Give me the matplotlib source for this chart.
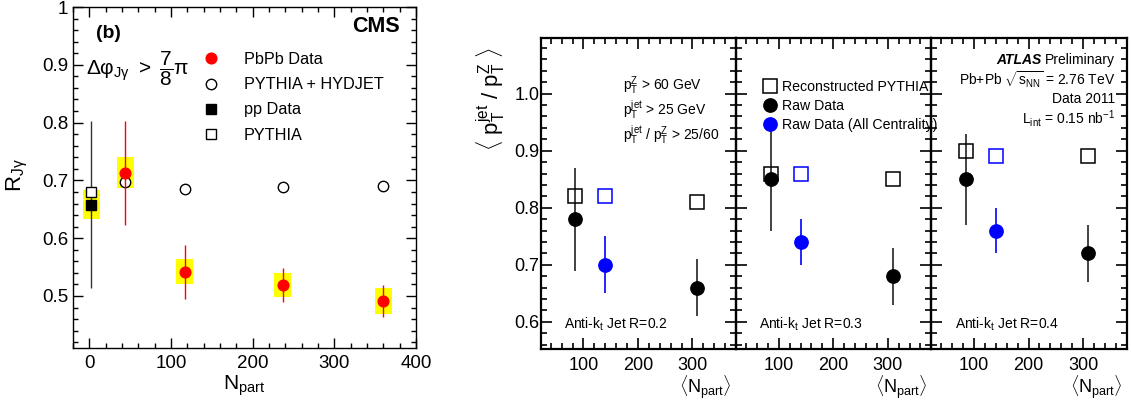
import matplotlib
matplotlib.use("Agg")
import matplotlib.pyplot as plt
from matplotlib.patches import Rectangle
from matplotlib.ticker import MultipleLocator, FixedLocator, FixedFormatter
from matplotlib.lines import Line2D

plt.rcParams["font.family"] = ["Liberation Sans", "DejaVu Sans"]
plt.rcParams["mathtext.fontset"] = "custom"
plt.rcParams["mathtext.rm"] = "Liberation Sans"
plt.rcParams["mathtext.it"] = "Liberation Sans:italic"
plt.rcParams["mathtext.bf"] = "Liberation Sans:bold"

# ---------- CMS panel (b) data ----------
npart_pbpb = [44, 117, 237, 360]
r_pbpb = [0.713, 0.542, 0.519, 0.491]
r_pbpb_stat = [0.090, 0.047, 0.029, 0.028]
r_pbpb_sys = [0.027, 0.022, 0.021, 0.023]
r_hydjet = [0.698, 0.685, 0.688, 0.691]

npart_pp = [2.5]
r_pp = [0.658]
r_pp_stat = [0.145]
r_pp_sys = [0.025]
r_pythia = [0.680]

# ---------- ATLAS data (per jet radius) ----------
radii = ["0.2", "0.3", "0.4"]
npart_cent = [85, 309]
npart_all = [140]
reco_pythia = [[0.82, 0.81], [0.86, 0.85], [0.90, 0.89]]
reco_pythia_all = [[0.82], [0.86], [0.89]]
raw_data = [[0.78, 0.66], [0.85, 0.68], [0.85, 0.72]]
raw_data_err = [[0.09, 0.05], [0.09, 0.05], [0.08, 0.05]]
raw_all = [[0.70], [0.74], [0.76]]
raw_all_err = [[0.05], [0.04], [0.04]]

W, H = 1131, 412
fig = plt.figure(figsize=(W / 100, H / 100), dpi=100)


def px_rect(x0, y0, x1, y1):
    return [x0 / W, 1 - y1 / H, (x1 - x0) / W, (y1 - y0) / H]


def ftext(x, y, s, **kw):
    return fig.text(x / W, 1 - y / H, s, **kw)


# ---------- left: CMS ----------
ax = fig.add_axes(px_rect(73, 7, 416, 348))
ax.set_xlim(-20, 400)
ax.set_ylim(0.41, 1.0)
for sp in ax.spines.values():
    sp.set_linewidth(1.0)
ax.xaxis.set_major_locator(MultipleLocator(100))
ax.xaxis.set_minor_locator(MultipleLocator(20))
ax.yaxis.set_major_locator(FixedLocator([0.5, 0.6, 0.7, 0.8, 0.9, 1.0]))
ax.yaxis.set_major_formatter(FixedFormatter(["0.5", "0.6", "0.7", "0.8", "0.9", "1"]))
ax.yaxis.set_minor_locator(MultipleLocator(0.02))
ax.tick_params(which="both", direction="in", top=True, right=True, width=1.0)
ax.tick_params(which="major", length=7.5, labelsize=13.5)
ax.tick_params(which="minor", length=3.8)
ax.tick_params(axis="y", pad=3.5)
ax.tick_params(axis="x", pad=5)

for x, y, s in zip(npart_pbpb, r_pbpb, r_pbpb_sys):
    ax.add_patch(Rectangle((x - 10.5, y - s), 21, 2 * s, color="#ffff00", lw=0, zorder=1))
for x, y, s in zip(npart_pp, r_pp, r_pp_sys):
    ax.add_patch(Rectangle((x - 10, y - s), 20, 2 * s, color="#ffff00", lw=0, zorder=1))

ax.errorbar(npart_pp, r_pp, yerr=r_pp_stat, fmt="none", ecolor="#333333", elinewidth=1.0, capsize=0, zorder=2)
ax.plot(npart_pp, r_pythia, ls="none", marker="s", ms=7.5, mfc="white", mec="black", mew=1.0, zorder=3)
ax.plot(npart_pp, r_pp, ls="none", marker="s", ms=7.7, color="black", zorder=4)
ax.plot(npart_pbpb, r_hydjet, ls="none", marker="o", ms=7.5, mfc="white", mec="black", mew=1.0, zorder=3)
ax.errorbar(npart_pbpb, r_pbpb, yerr=r_pbpb_stat, fmt="none", ecolor="red", elinewidth=1.0, capsize=0, zorder=4)
ax.plot(npart_pbpb, r_pbpb, ls="none", marker="o", ms=7.7, color="red", zorder=5)

handles = [
    Line2D([], [], ls="none", marker="o", ms=7.7, color="red"),
    Line2D([], [], ls="none", marker="o", ms=7.5, mfc="white", mec="black", mew=1.0),
    Line2D([], [], ls="none", marker="s", ms=7.7, color="black"),
    Line2D([], [], ls="none", marker="s", ms=7.5, mfc="white", mec="black", mew=1.0),
]
ax.legend(handles, ["PbPb Data", "PYTHIA + HYDJET", "pp Data", "PYTHIA"],
          loc="upper left", bbox_to_anchor=(0.38, 0.868), frameon=False,
          fontsize=11.7, handlelength=1.0, handletextpad=1.5, labelspacing=0.63,
          borderpad=0, borderaxespad=0)

ftext(96, 34, "(b)", fontsize=14, fontweight="bold", va="center", ha="left")
ftext(400, 27, "CMS", fontsize=15.5, fontweight="bold", va="center", ha="right")
ftext(86, 69, r"$\mathrm{Δφ_{Jγ}}\ >\ \dfrac{7}{8}\mathrm{π}$", fontsize=15, va="center", ha="left")
ftext(17, 175, r"R$_{\mathrm{Jγ}}$", fontsize=16, rotation=90, va="center", ha="center")
ftext(244, 390, r"N$_{\mathrm{part}}$", fontsize=15, va="baseline", ha="center")

# ---------- right: ATLAS ----------
left0, pw = 540.7, 195.3
axes_r = []
for i in range(3):
    x0 = left0 + i * pw
    a = fig.add_axes(px_rect(x0, 38.3, x0 + pw, 349.3))
    a.patch.set_visible(False)
    axes_r.append(a)
    a.set_xlim(21.5, 380)
    a.set_ylim(0.552, 1.097)
    for sp in a.spines.values():
        sp.set_linewidth(1.6)
    a.xaxis.set_major_locator(MultipleLocator(100))
    a.xaxis.set_minor_locator(MultipleLocator(20))
    a.yaxis.set_major_locator(MultipleLocator(0.1))
    a.yaxis.set_minor_locator(MultipleLocator(0.02))
    a.yaxis.set_major_formatter(plt.FormatStrFormatter("%.1f"))
    a.tick_params(which="both", direction="in", top=True, right=True, width=1.2)
    a.tick_params(which="major", length=8, labelsize=13)
    a.tick_params(which="minor", length=4)
    a.tick_params(axis="y", pad=1)
    a.tick_params(axis="x", pad=5.5)
    if i > 0:
        a.tick_params(axis="y", labelleft=False)

    a.errorbar(npart_cent, raw_data[i], yerr=raw_data_err[i], fmt="none", ecolor="#222222",
               elinewidth=1.2, capsize=0, zorder=2)
    a.errorbar(npart_all, raw_all[i], yerr=raw_all_err[i], fmt="none", ecolor="blue",
               elinewidth=1.2, capsize=0, zorder=2)
    a.plot(npart_cent, reco_pythia[i], ls="none", marker="s", ms=10, mfc="none", mec="black", mew=1.1, zorder=3)
    a.plot(npart_all, reco_pythia_all[i], ls="none", marker="s", ms=10, mfc="none", mec="blue", mew=1.1, zorder=3)
    a.plot(npart_cent, raw_data[i], ls="none", marker="o", ms=9.6, color="black", zorder=4)
    a.plot(npart_all, raw_all[i], ls="none", marker="o", ms=9.6, color="blue", zorder=4)

    a.text(0.12, 0.067, r"Anti-k$_{\mathrm{t}}$ Jet R=" + radii[i], transform=a.transAxes,
           fontsize=10, va="baseline", ha="left")
    ftext(x0 + pw - 4, 393, r"$\langle$N$_{\mathrm{part}}$$\rangle$", fontsize=13, va="baseline", ha="right")

a1, a2, a3 = axes_r
ftext(623, 90, r"p$_{\mathrm{T}}^{\mathrm{Z}}$ > 60 GeV", fontsize=10, va="baseline")
ftext(623, 116, r"p$_{\mathrm{T}}^{\mathrm{jet}}$ > 25 GeV", fontsize=10, va="baseline")
ftext(623, 141, r"p$_{\mathrm{T}}^{\mathrm{jet}}$ / p$_{\mathrm{T}}^{\mathrm{Z}}$ > 25/60", fontsize=10, va="baseline")

h2 = [
    Line2D([], [], ls="none", marker="s", ms=10, mfc="none", mec="black", mew=1.1),
    Line2D([], [], ls="none", marker="o", ms=9.6, color="black"),
    Line2D([], [], ls="none", marker="o", ms=9.6, color="blue"),
]
leg2 = a2.legend(h2, ["Reconstructed PYTHIA", "Raw Data", "Raw Data (All Centrality)"],
                 loc="upper left", bbox_to_anchor=(0.14, 0.865), frameon=False, fontsize=10.2,
                 handlelength=0.9, handletextpad=0.45, labelspacing=0.33, borderpad=0, borderaxespad=0)
leg2.set_zorder(10)

prelim = ftext(1115, 64, "Preliminary", fontsize=10, va="baseline", ha="right")
a3.annotate("ATLAS", xy=(0, 0), xycoords=prelim, xytext=(-2.5, 0), textcoords="offset points",
            fontsize=10, fontweight="bold", fontstyle="italic", ha="right", va="bottom")
ftext(1115, 85, r"Pb+Pb $\sqrt{\mathrm{s_{NN}}}$ = 2.76 TeV", fontsize=10, va="baseline", ha="right")
ftext(1115, 103, "Data 2011", fontsize=10, va="baseline", ha="right")
ftext(1115, 124, r"L$_{\mathrm{int}}$ = 0.15 nb$^{\mathrm{-1}}$", fontsize=10, va="baseline", ha="right")

ftext(491, 99, r"$\langle$ p$_{\mathrm{T}}^{\mathrm{jet}}$ / p$_{\mathrm{T}}^{\mathrm{Z}}$ $\rangle$",
      fontsize=16, rotation=90, va="center", ha="center")

fig.savefig("out.png", dpi=100)
